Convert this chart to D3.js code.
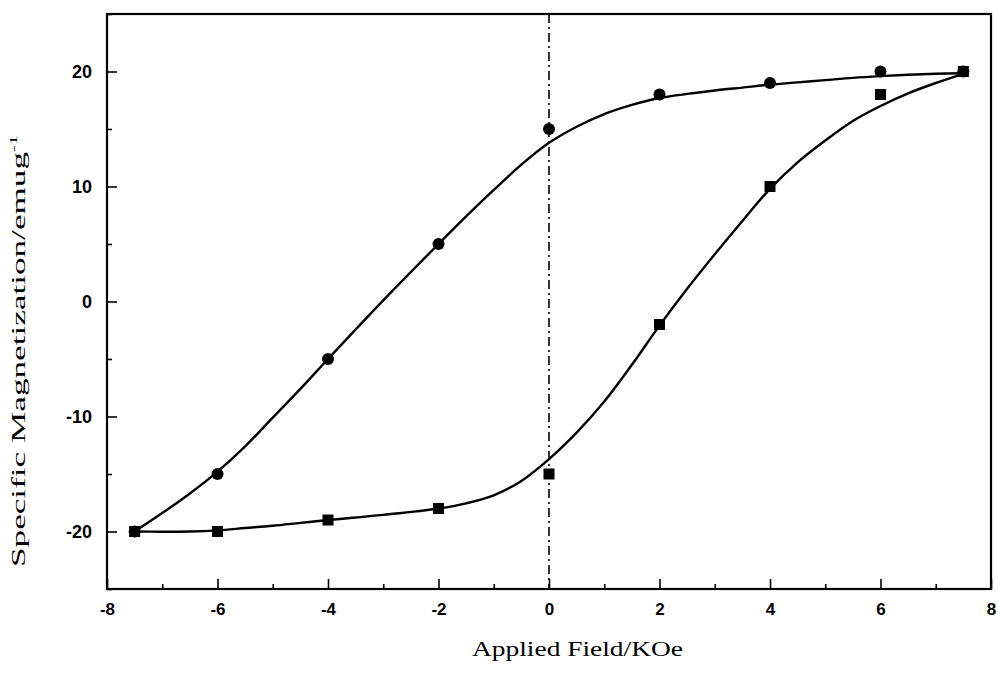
<!DOCTYPE html>
<html>
<head>
<meta charset="utf-8">
<script src="https://cdn.jsdelivr.net/npm/d3@7/dist/d3.min.js"></script>
<style>
  body { margin: 0; background: #fff; }
  svg { display: block; }
</style>
</head>
<body>
<svg id="chart" width="998" height="681"></svg>
<script>
// measured points (KOe, emu/g)
var fieldPts = [-7.5, -6, -4, -2, 0, 2, 4, 6, 7.5];
var upperMag = [-20, -15, -5, 5, 15, 18, 19, 20, 20];
var lowerMag = [-20, -20, -19, -18, -15, -2, 10, 18, 20];

// fitted curves
var fitField = [-7.5, -7, -6.5, -6, -5.5, -5, -4.5, -4, -3, -2, -1.5, -1, -0.5, 0, 0.5, 1, 1.5, 2, 2.5, 3, 3.5, 4, 4.5, 5, 5.5, 6, 6.5, 7, 7.5];
var upperFit = [-20, -18.4, -16.7, -14.8, -12.6, -10.1, -7.6, -5.0, 0.1, 5.0, 7.4, 9.7, 11.9, 13.8, 15.2, 16.3, 17.1, 17.7, 18.05, 18.35, 18.6, 18.85, 19.05, 19.25, 19.45, 19.6, 19.72, 19.8, 19.85];
var lowerFit = [-20, -20.02, -20, -19.9, -19.7, -19.5, -19.25, -19.0, -18.55, -18.0, -17.55, -16.85, -15.6, -13.7, -11.4, -8.7, -5.5, -2.1, 1.1, 4.1, 7.0, 9.8, 12.1, 14.0, 15.7, 17.0, 18.1, 19.0, 19.8];

var xTicks = [-8, -6, -4, -2, 0, 2, 4, 6, 8];
var yTicks = [-20, -10, 0, 10, 20];
var xMinor = [-7, -5, -3, -1, 1, 3, 5, 7];
var yMinor = [-25, -15, -5, 5, 15, 25];

var svg = d3.select('#chart');
var FONT_SANS = 'Liberation Sans, Arial, sans-serif';
var FONT_SERIF = 'Liberation Serif, Times New Roman, serif';

var x = d3.scaleLinear().domain([-8, 8]).range([107, 991]);
var y = d3.scaleLinear().domain([-25, 25]).range([589, 14]);

// plain hyphen for negatives, like the original
function plain(d) { return String(d); }

// minor ticks
svg.append('g')
  .attr('transform', 'translate(0,' + y(-25) + ')')
  .call(d3.axisBottom(x).tickValues(xMinor).tickSize(-5).tickFormat(''))
  .call(function(g) { g.select('.domain').remove(); });

svg.append('g')
  .attr('transform', 'translate(' + x(-8) + ',0)')
  .call(d3.axisLeft(y).tickValues(yMinor).tickSize(-5).tickFormat(''))
  .call(function(g) { g.select('.domain').remove(); });

// major ticks + labels
var xAxis = svg.append('g')
  .attr('transform', 'translate(0,' + y(-25) + ')')
  .call(d3.axisBottom(x).tickValues(xTicks).tickFormat(plain).tickSizeInner(-10).tickSizeOuter(0).tickPadding(14));
xAxis.select('.domain').remove();
xAxis.selectAll('text')
  .attr('font-family', FONT_SANS)
  .attr('font-size', 17)
  .attr('font-weight', 'bold')
  .attr('fill', '#000');

var yAxis = svg.append('g')
  .attr('transform', 'translate(' + x(-8) + ',0)')
  .call(d3.axisLeft(y).tickValues(yTicks).tickFormat(plain).tickSizeInner(-10).tickSizeOuter(0).tickPadding(15));
yAxis.select('.domain').remove();
yAxis.selectAll('text')
  .attr('font-family', FONT_SANS)
  .attr('font-size', 18)
  .attr('font-weight', 'bold')
  .attr('fill', '#000');

svg.selectAll('.tick line')
  .attr('stroke', '#000')
  .attr('stroke-width', 1.6);

// frame
svg.append('rect')
  .attr('x', x(-8))
  .attr('y', y(25))
  .attr('width', x(8) - x(-8))
  .attr('height', y(-25) - y(25))
  .attr('fill', 'none')
  .attr('stroke', '#000')
  .attr('stroke-width', 2.2);

// dash-dot line at zero field
svg.append('line')
  .attr('x1', x(0)).attr('x2', x(0))
  .attr('y1', y(25)).attr('y2', y(-25))
  .attr('stroke', '#000')
  .attr('stroke-width', 1.6)
  .attr('stroke-dasharray', '9,4,2,4');

var line = d3.line()
  .x(function(d) { return x(d[0]); })
  .y(function(d) { return y(d[1]); })
  .curve(d3.curveCatmullRom.alpha(0.5));

[upperFit, lowerFit].forEach(function(vals) {
  svg.append('path')
    .datum(fitField.map(function(f, i) { return [f, vals[i]]; }))
    .attr('d', line)
    .attr('fill', 'none')
    .attr('stroke', '#000')
    .attr('stroke-width', 2.4);
});

// markers
svg.append('g').selectAll('circle')
  .data(fieldPts.map(function(f, i) { return [f, upperMag[i]]; }))
  .enter()
  .append('circle')
  .attr('cx', function(d) { return x(d[0]); })
  .attr('cy', function(d) { return y(d[1]); })
  .attr('r', 6)
  .attr('fill', '#000');

svg.append('g').selectAll('path')
  .data(fieldPts.map(function(f, i) { return [f, lowerMag[i]]; }))
  .enter()
  .append('path')
  .attr('d', d3.symbol().type(d3.symbolSquare).size(121))
  .attr('transform', function(d) { return 'translate(' + x(d[0]) + ',' + y(d[1]) + ')'; })
  .attr('fill', '#000');

// axis titles
svg.append('text')
  .attr('x', 472)
  .attr('y', 656)
  .attr('font-family', FONT_SERIF)
  .attr('font-size', 20)
  .attr('textLength', 211)
  .attr('lengthAdjust', 'spacingAndGlyphs')
  .text('Applied Field/KOe');

var yTitle = svg.append('text')
  .attr('transform', 'translate(25,567) rotate(-90)')
  .attr('font-family', FONT_SERIF)
  .attr('font-size', 19)
  .attr('textLength', 432)
  .attr('lengthAdjust', 'spacingAndGlyphs');
yTitle.append('tspan').text('Specific Magnetization/emug');
yTitle.append('tspan').attr('dy', -8).attr('font-size', 11).text('-1');
</script>
</body>
</html>
